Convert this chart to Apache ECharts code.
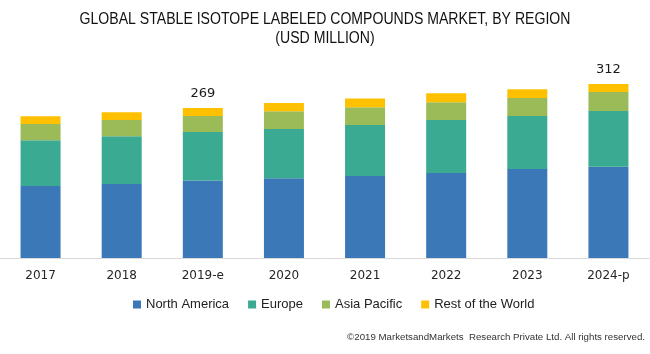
<!DOCTYPE html>
<html>
<head>
<meta charset="utf-8">
<script src="https://cdn.jsdelivr.net/npm/echarts@6/dist/echarts.min.js"></script>
<style>
  html, body { margin: 0; padding: 0; background: #fff; }
  #chart { width: 650px; height: 354px; }
</style>
</head>
<body>
<div id="chart"></div>
<script>
const years = ['2017', '2018', '2019-e', '2020', '2021', '2022', '2023', '2024-p'];
const northAmerica = [129.1, 132.7, 138.8, 142.9, 147.0, 152.4, 159.6, 163.5];
const europe = [82.0, 85.5, 87.2, 88.4, 91.5, 95.0, 95.0, 100.0];
const asiaPacific = [29.2, 29.2, 28.7, 31.7, 31.7, 31.7, 32.3, 34.0];
const restOfWorld = [13.8, 13.8, 14.3, 14.9, 15.6, 16.1, 15.6, 14.5];
const totalLabels = [null, null, 269, null, null, null, null, 312];

const chart = echarts.init(document.getElementById('chart'));

const makeSeries = (name, data, color) => ({
  name: name,
  type: 'bar',
  stack: 'total',
  barWidth: 40,
  data: data,
  itemStyle: { color: color },
  emphasis: { disabled: true }
});

const rest = makeSeries('Rest of the World', restOfWorld, '#FFC000');
rest.label = {
  show: true,
  position: 'top',
  distance: 8,
  color: '#1a1a1a',
  fontFamily: 'DejaVu Sans',
  fontSize: 13,
  formatter: (p) => (totalLabels[p.dataIndex] == null ? '' : String(totalLabels[p.dataIndex]))
};

// narrow title text: Arial Narrow isn't available, so squeeze Liberation Sans
const titleText = (text, y) => ({
  type: 'text',
  x: 325,
  y: y,
  scaleX: 0.88,
  silent: true,
  style: {
    text: text,
    x: 0,
    y: 0,
    align: 'center',
    verticalAlign: 'middle',
    font: '16px "Liberation Sans", Arial, sans-serif',
    fill: '#111'
  }
});

const option = {
  animation: false,
  graphic: [
    titleText('GLOBAL STABLE ISOTOPE LABELED COMPOUNDS MARKET, BY REGION', 20),
    titleText('(USD MILLION)', 39)
  ],
  title: {
    text: '©2019 MarketsandMarkets  Research Private Ltd. All rights reserved.',
    right: 0,
    top: 327,
    textStyle: {
      fontFamily: 'Liberation Sans, Arial, sans-serif',
      fontWeight: 'normal',
      fontSize: 9.7,
      color: '#333'
    }
  },
  legend: {
    data: ['North America', 'Europe', 'Asia Pacific', 'Rest of the World'],
    left: 128,
    top: 293,
    itemWidth: 8,
    itemHeight: 8,
    itemGap: 19,
    icon: 'rect',
    textStyle: {
      fontFamily: 'Liberation Sans, Arial, sans-serif',
      fontSize: 13,
      color: '#222'
    }
  },
  grid: {
    left: 0,
    right: 1,
    top: 79.5,
    bottom: 96,
    containLabel: false
  },
  xAxis: {
    type: 'category',
    data: years,
    axisTick: { show: false },
    axisLine: { lineStyle: { color: '#d9d9d9', width: 1 } },
    axisLabel: {
      margin: 12,
      fontFamily: 'DejaVu Sans',
      fontSize: 12,
      color: '#262626'
    }
  },
  yAxis: {
    type: 'value',
    min: 0,
    max: 320,
    show: false,
    splitLine: { show: false }
  },
  series: [
    makeSeries('North America', northAmerica, '#3A78B8'),
    makeSeries('Europe', europe, '#3AAA93'),
    makeSeries('Asia Pacific', asiaPacific, '#9BBB59'),
    rest
  ]
};

chart.setOption(option);
</script>
</body>
</html>
